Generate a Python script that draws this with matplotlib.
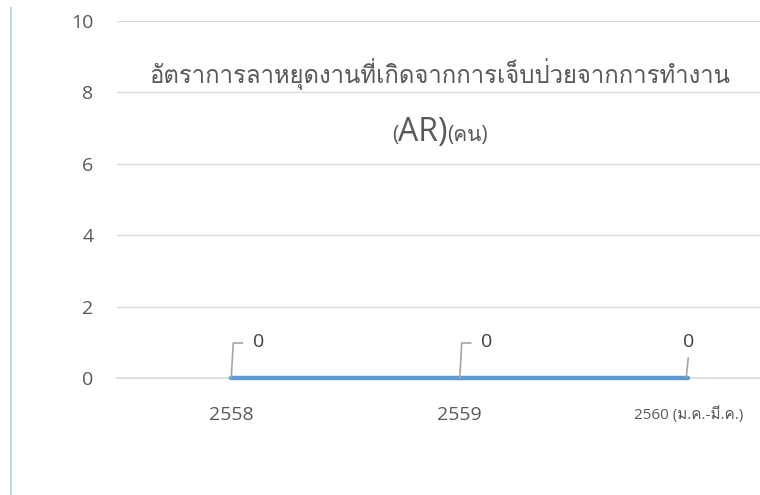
import matplotlib
matplotlib.use("Agg")
import matplotlib.pyplot as plt
from matplotlib import font_manager
from matplotlib.ft2font import FT2Font
from matplotlib.lines import Line2D

categories = ["2558", "2559", "2560 (ม.ค.-มี.ค.)"]
values = [0, 0, 0]
yticks = [0, 2, 4, 6, 8, 10]
title_line1 = "อัตราการลาหยุดงานที่เกิดจากการเจ็บป่วยจากการทำงาน"
title_parts = [("(", 15), ("AR)", 23), ("(คน)", 15)]

# find a font with Thai glyphs
thai_fams = []
for f in font_manager.fontManager.ttflist:
    try:
        cm = FT2Font(f.fname).get_charmap()
        if 0x0E2D in cm and f.name not in thai_fams:
            thai_fams.append(f.name)
    except Exception:
        pass
fams = ["Open Sans"] + thai_fams[:2] + ["DejaVu Sans"]
plt.rcParams['font.family'] = fams

W, H = 760, 495
fig = plt.figure(figsize=(W/100, H/100), dpi=100)
left, right = 117, 802.5
bot, top = 378, 21
ax = fig.add_axes([left/W, (H-bot)/H, (right-left)/W, (bot-top)/H])
ax.set_xlim(-0.5, 2.5)
ax.set_ylim(0, 10)
for s in ax.spines.values():
    s.set_visible(False)
ax.set_yticks(yticks)
ax.yaxis.grid(True, color="#d9d9d9", linewidth=1)
ax.axhline(0, color="#d9d9d9", linewidth=1.2, clip_on=False, zorder=1)
ax.set_axisbelow(True)
ax.tick_params(axis='y', length=0, pad=17, labelsize=14, labelcolor="#595959")
ax.tick_params(axis='x', length=0, pad=20, labelsize=14, labelcolor="#595959")
x = list(range(len(categories)))
ax.set_xticks(x)
ax.set_xticklabels(categories)
ax.get_xticklabels()[-1].set_fontsize(11)
ax.plot(x, values, color="#5b9bd5", linewidth=3.2, solid_capstyle="round", zorder=3, clip_on=False)

# data labels with leader lines
offsets = [(27, 36), (27, 36), (0, 36)]
for xi, v, (dx, dy) in zip(x, values, offsets):
    ax.annotate(str(v), xy=(xi, v), xytext=(dx*0.72, dy*0.72), textcoords="offset points",
                ha="center", va="center", fontsize=14, color="#404040", zorder=4)
    X0, Y0 = ax.transData.transform((xi, v))
    if dx > 0:
        pts = [(X0, Y0), (X0 + 2, Y0 + 35), (X0 + 11, Y0 + 35)]
    else:
        pts = [(X0 - 2, Y0 + 1), (X0, Y0 + 20)]
    xs = [p[0]/W for p in pts]
    ys = [p[1]/H for p in pts]
    fig.add_artist(Line2D(xs, ys, color="#a6a6a6", linewidth=1.2, zorder=5))

# title
fig.text(440/W, (H-83)/H, title_line1, ha="center", va="baseline", fontsize=17.2, color="#595959")
fig.canvas.draw()
r = fig.canvas.get_renderer()
widths = []
for s, fs in title_parts:
    t = fig.text(0, 0, s, fontsize=fs)
    widths.append(t.get_window_extent(r).width)
    t.remove()
total = sum(widths)
xp = 440 - total/2
for (s, fs), w in zip(title_parts, widths):
    fig.text(xp/W, (H-141)/H, s, ha="left", va="baseline", fontsize=fs, color="#595959")
    xp += w

# faint left border
fig.add_artist(Line2D([11/W, 11/W], [0, (H-8)/H], color="#bdd7ee", linewidth=1.5))

fig.savefig("out.png", dpi=100)
